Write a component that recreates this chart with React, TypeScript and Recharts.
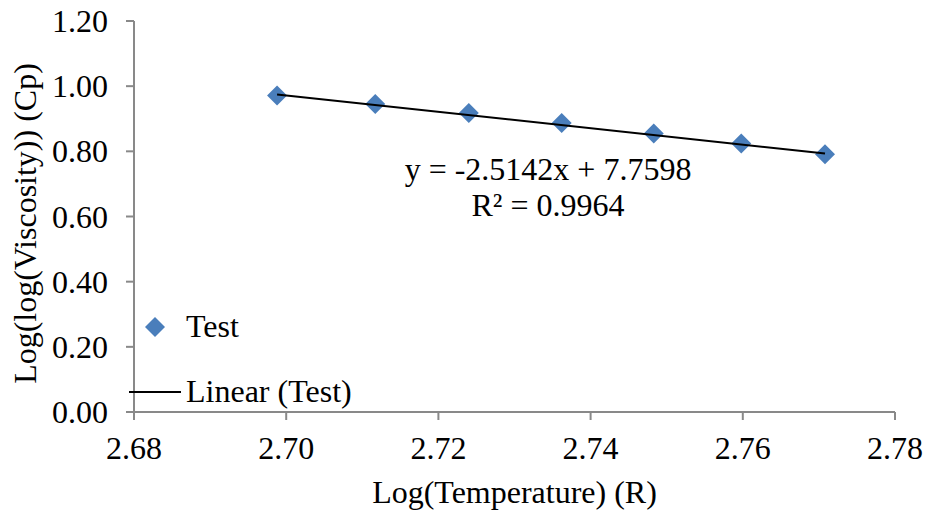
import { ScatterChart, Scatter, XAxis, YAxis } from 'recharts';

const logTemp = [2.6988, 2.7117, 2.724, 2.7362, 2.7483, 2.7598, 2.7708];
const logLogVisc = [0.971, 0.945, 0.918, 0.887, 0.855, 0.824, 0.791];

// trendline endpoints
const trendX = [2.6988, 2.7708];
const trendY = [0.9745, 0.7934];

const xTicks = [2.68, 2.7, 2.72, 2.74, 2.76, 2.78];
const yTicks = [0, 0.2, 0.4, 0.6, 0.8, 1.0, 1.2];

const equation = 'y = -2.5142x + 7.7598';
const rSquared = 'R² = 0.9964';

const font = '"Liberation Serif", "Times New Roman", serif';
const fontSize = 32;
const blue = '#4A7EBB';
const axisGray = '#898989';
const textStyle = { fontFamily: font, fontSize: `${fontSize}px`, fill: '#000' };

const testData = logTemp.map((x, i) => ({ x, y: logLogVisc[i] }));
const trendData = trendX.map((x, i) => ({ x, y: trendY[i] }));

const Diamond = (props: any) => {
  const { cx, cy } = props;
  const r = 10;
  return (
    <path
      d={`M${cx},${cy - r} L${cx + r},${cy} L${cx},${cy + r} L${cx - r},${cy} Z`}
      fill={blue}
    />
  );
};

const renderXTick = (props: any) => {
  const { x, y, payload } = props;
  return (
    <text x={x} y={y} dy={37} textAnchor="middle" style={textStyle}>
      {Number(payload.value).toFixed(2)}
    </text>
  );
};

const renderYTick = (props: any) => {
  const { x, y, payload } = props;
  return (
    <text x={x} y={y} dy={11} textAnchor="end" style={textStyle}>
      {Number(payload.value).toFixed(2)}
    </text>
  );
};

const XTitle = (props: any) => {
  const { viewBox } = props;
  return (
    <text
      x={viewBox.x + viewBox.width / 2}
      y={viewBox.y + viewBox.height - 7}
      textAnchor="middle"
      style={textStyle}
    >
      Log(Temperature) (R)
    </text>
  );
};

const YTitle = (props: any) => {
  const { viewBox } = props;
  const cx = viewBox.x + 36;
  const cy = viewBox.y + viewBox.height / 2 + 7;
  return (
    <text
      x={cx}
      y={cy}
      transform={`rotate(-90, ${cx}, ${cy})`}
      textAnchor="middle"
      style={textStyle}
    >
      Log(log(Viscosity)) (Cp)
    </text>
  );
};

export default function App() {
  return (
    <div style={{ position: 'absolute', left: 0, top: 0, width: 930, height: 510, background: '#fff' }}>
      <ScatterChart width={930} height={510} margin={{ top: 21, right: 35, bottom: 0, left: 0 }}>
        <XAxis
          type="number"
          dataKey="x"
          domain={[2.68, 2.78]}
          ticks={xTicks}
          tick={renderXTick}
          tickSize={8}
          tickMargin={2}
          height={98}
          stroke={axisGray}
          strokeWidth={2}
          allowDataOverflow
          label={<XTitle />}
        />
        <YAxis
          type="number"
          dataKey="y"
          domain={[0, 1.2]}
          ticks={yTicks}
          tick={renderYTick}
          tickSize={8}
          tickMargin={18}
          width={134}
          stroke={axisGray}
          strokeWidth={2}
          label={<YTitle />}
        />
        <Scatter name="Test" data={testData} shape={<Diamond />} isAnimationActive={false} />
        <Scatter
          name="Linear (Test)"
          data={trendData}
          line={{ stroke: '#000', strokeWidth: 2 }}
          shape={() => null}
          isAnimationActive={false}
        />
      </ScatterChart>
      <svg
        width={930}
        height={510}
        style={{ position: 'absolute', left: 0, top: 0, pointerEvents: 'none' }}
      >
        <path d="M155,317 L165,327 L155,337 L145,327 Z" fill={blue} />
        <text x={186} y={337} style={textStyle}>Test</text>
        <line x1={129} y1={392} x2={181} y2={392} stroke="#000" strokeWidth={2} />
        <text x={186} y={402} style={textStyle}>Linear (Test)</text>
        <text x={548} y={180} textAnchor="middle" style={textStyle}>{equation}</text>
        <text x={548} y={216} textAnchor="middle" style={textStyle}>{rSquared}</text>
      </svg>
    </div>
  );
}
